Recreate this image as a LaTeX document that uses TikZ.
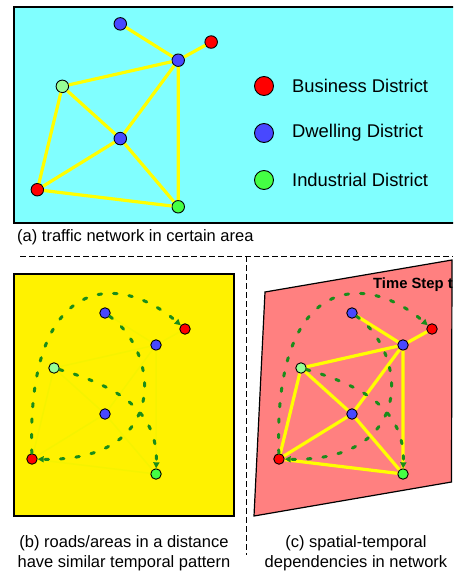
\documentclass[tikz,border=0pt]{standalone}
\usepackage{fontspec}
\setmainfont{Liberation Sans}
\usetikzlibrary{arrows.meta, positioning}

\definecolor{skycyan}{RGB}{128,255,255}
\definecolor{bizred}{RGB}{255,0,0}
\definecolor{dwellblue}{RGB}{72,72,255}
\definecolor{indgreen}{RGB}{68,255,68}
\definecolor{indgreenL}{RGB}{150,255,150}
\definecolor{roadyellow}{RGB}{255,255,0}
\definecolor{faintyellow}{RGB}{246,242,0}
\definecolor{linkgreen}{RGB}{26,140,26}
\definecolor{pinkarea}{RGB}{255,128,128}

\tikzset{
  site/.style={circle, draw=black, line width=0.9pt, inner sep=0pt, minimum size=#1},
  site/.default=10.5pt,
  road/.style={draw=roadyellow, line width=3.2pt},
  faintroad/.style={draw=faintyellow, line width=1.5pt},
  simlink/.style={draw=linkgreen, line width=3pt, dash pattern=on 3.5pt off 12pt, line cap=round,
    -{Triangle[length=6pt,width=6pt]}},
  panelbox/.style={draw=black, line width=1.2pt},
  sepline/.style={draw=black, line width=0.9pt, dash pattern=on 5.5pt off 3.5pt},
  keytext/.style={inner sep=0pt, font=\fontsize{18.4}{22}\selectfont},
  caption/.style={inner sep=0pt, font=\fontsize{16.5}{20}\selectfont}
}

\newcommand{\placesites}[2]{%
  \node[site=#2, fill=dwellblue] (#1bt) at (105,21) {};
  \node[site=#2, fill=bizred] (#1rt) at (185,37) {};
  \node[site=#2, fill=dwellblue] (#1hub) at (156,53) {};
  \node[site=#2, fill=indgreenL] (#1gl) at (54,76) {};
  \node[site=#2, fill=dwellblue] (#1ctr) at (105,122) {};
  \node[site=#2, fill=bizred] (#1rb) at (32,167) {};
  \node[site=#2, fill=indgreen] (#1gb) at (156,182) {};
}
\newcommand{\placeroads}[2]{%
  \draw[#2] (#1bt) -- (#1hub) (#1rt) -- (#1hub) (#1gl) -- (#1hub) (#1ctr) -- (#1hub)
    (#1hub) -- (#1gb) (#1gl) -- (#1ctr) (#1gl) -- (#1rb) (#1ctr) -- (#1rb)
    (#1rb) -- (#1gb) (#1ctr) -- (#1gb);
}
\newcommand{\simlinks}[1]{%
  \draw[simlink] (#1rb) .. controls (26,-20) and (120,-20) .. (#1rt);
  \draw[simlink] (#1bt) .. controls (160,60) and (170,170) .. (#1rb);
  \draw[simlink] (#1gl) .. controls (120,95) and (158,120) .. (#1gb);
}

\begin{document}
\begin{tikzpicture}[x=1pt, y=-1pt]
\clip (0,0) rectangle (453,573);

\draw[panelbox, fill=skycyan] (14,7) rectangle (470,223);
\begin{scope}[shift={(1,0)}, scale=1.136]
\placesites{a}{12.5pt}
\placeroads{a}{road}
\end{scope}

\node[site=19pt, fill=bizred] (keybiz) at (264,86) {};
\node[site=19pt, fill=dwellblue] (keydwell) at (264,133) {};
\node[site=19pt, fill=indgreen] (keyind) at (264,180) {};
\node[keytext, right=18pt of keybiz] (txtbiz) {Business District};
\node[keytext, right=18pt of keydwell] (txtdwell) {Dwelling District};
\node[keytext, right=18pt of keyind] (txtind) {Industrial District};
\node[caption, anchor=west] (capa) at (17,237) {(a) traffic network in certain area};

\draw[sepline] (20,256) -- (453,256);
\draw[sepline] (246,256) -- (246,555);

\draw[panelbox, fill=yellow] (14,274) rectangle (234,516);
\begin{scope}[shift={(0,292)}]
\placesites{b}{10.5pt}
\placeroads{b}{faintroad}
\simlinks{b}
\end{scope}
\node[caption, align=center] (capb) at (124,553) {(b) roads/areas in a distance\\have similar temporal pattern};

\draw[panelbox, fill=pinkarea] (265,292) -- (452,260) -- (451.5,482) -- (254,516) -- cycle;
\node[anchor=west, inner sep=0pt, font=\fontsize{14.8}{17}\selectfont\bfseries] (tstep) at (373,285) {Time Step t};
\begin{scope}[shift={(247,292)}]
\placesites{c}{10.5pt}
\placeroads{c}{road}
\simlinks{c}
\end{scope}
\node[caption, align=center] (capc) at (356,553) {(c) spatial-temporal\\dependencies in network};
\end{tikzpicture}
\end{document}
